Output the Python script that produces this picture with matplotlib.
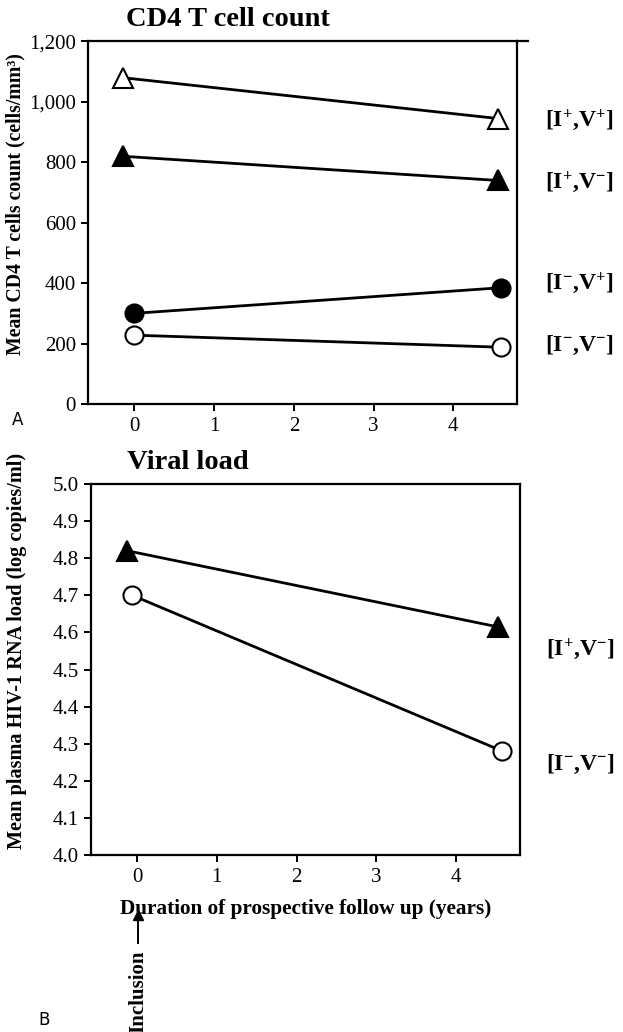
import matplotlib
matplotlib.use("Agg")
import matplotlib.pyplot as plt
from matplotlib.lines import Line2D

plt.rcParams['font.family'] = ['Liberation Serif', 'DejaVu Serif']
plt.rcParams['mathtext.fontset'] = 'custom'
plt.rcParams['mathtext.rm'] = 'Liberation Serif:weight=bold'
plt.rcParams['mathtext.bf'] = 'Liberation Serif:weight=bold'
plt.rcParams['mathtext.it'] = 'Liberation Serif:weight=bold'

# CD4 T cell count (panel A)
cd4_groups = [r"$\mathbf{[I^{+}{,}V^{+}]}$", r"$\mathbf{[I^{+}{,}V^{-}]}$",
              r"$\mathbf{[I^{-}{,}V^{+}]}$", r"$\mathbf{[I^{-}{,}V^{-}]}$"]
cd4_x = [[-0.14, 4.56], [-0.14, 4.56], [-0.01, 4.6], [-0.01, 4.6]]
cd4_y = [[1080, 945], [820, 740], [300, 385], [228, 188]]
cd4_marker = ['^', '^', 'o', 'o']
cd4_fill = ['white', 'black', 'black', 'white']
cd4_label_y = [940, 735, 400, 195]

# viral load (panel B)
vl_groups = [r"$\mathbf{[I^{+}{,}V^{-}]}$", r"$\mathbf{[I^{-}{,}V^{-}]}$"]
vl_x = [[-0.12, 4.52], [-0.06, 4.58]]
vl_y = [[4.82, 4.615], [4.70, 4.28]]
vl_marker = ['^', 'o']
vl_fill = ['black', 'white']
vl_label_y = [4.555, 4.245]

xticks = [0, 1, 2, 3, 4]

fig = plt.figure(figsize=(6.23, 10.32), dpi=100)
axA = fig.add_axes([0.142, 0.6085, 0.6878, 0.3513])
axB = fig.add_axes([0.146, 0.1715, 0.6886, 0.3595])


def style(ax):
    for s in ax.spines.values():
        s.set_linewidth(1.6)
    ax.tick_params(direction='out', length=5, width=1.4, labelsize=15, pad=4)
    ax.set_xticks(xticks)
    ax.set_xlim(-0.577, 4.8)


def series(ax, xs, ys, mk, fill):
    for x, y, m, f in zip(xs, ys, mk, fill):
        ms = 15 if m == '^' else 13
        ax.plot(x, y, color='black', lw=2, marker=m, ms=ms,
                markerfacecolor=f, markeredgecolor='black', markeredgewidth=1.5,
                clip_on=False)


style(axA)
series(axA, cd4_x, cd4_y, cd4_marker, cd4_fill)
axA.set_ylim(0, 1200)
axA.set_yticks(range(0, 1201, 200))
axA.set_yticklabels(['0', '200', '400', '600', '800', '1,000', '1,200'])
axA.set_ylabel('Mean CD4 T cells count (cells/mm³)', fontsize=14.3, fontweight='bold')
axA.yaxis.set_label_coords(-0.147, 0.552)
axA.text(0.088, 1.025, 'CD4 T cell count', transform=axA.transAxes,
         fontsize=20.5, fontweight='bold', va='bottom')
axA.add_line(Line2D([1.0, 1.026], [1.0, 1.0], transform=axA.transAxes,
                    color='black', lw=1.6, clip_on=False))
for g, ly in zip(cd4_groups, cd4_label_y):
    axA.text(1.065, ly, g, transform=axA.get_yaxis_transform(), fontsize=17, va='center')

style(axB)
series(axB, vl_x, vl_y, vl_marker, vl_fill)
axB.set_ylim(4.0, 5.0)
axB.set_yticks([4.0 + 0.1 * i for i in range(11)])
axB.set_yticklabels(['%.1f' % (4.0 + 0.1 * i) for i in range(11)])
axB.set_ylabel('Mean plasma HIV-1 RNA load (log copies/ml)', fontsize=14.6, fontweight='bold')
axB.yaxis.set_label_coords(-0.149, 0.55)
axB.set_xlabel('Duration of prospective follow up (years)', fontsize=15.3, fontweight='bold', labelpad=9)
axB.text(0.083, 1.025, 'Viral load', transform=axB.transAxes,
         fontsize=20.5, fontweight='bold', va='bottom')
for g, ly in zip(vl_groups, vl_label_y):
    axB.text(1.06, ly, g, transform=axB.get_yaxis_transform(), fontsize=17, va='center')

# inclusion arrow
fig.text(138 / 623, 1 - 992 / 1032, 'Inclusion', rotation=90, fontsize=15,
         fontweight='bold', ha='center', va='center')
fig.add_artist(Line2D([138 / 623, 138 / 623], [1 - 943 / 1032, 1 - 916 / 1032],
                      color='black', lw=1.4))
fig.add_artist(Line2D([138 / 623], [1 - 915 / 1032], marker='^', color='black', ms=7))

fig.text(12 / 623, 1 - 420 / 1032, 'A', family='DejaVu Sans', fontsize=12, va='center')
fig.text(38 / 623, 1 - 1020 / 1032, 'B', family='DejaVu Sans', fontsize=12, va='center')

fig.savefig('out.png', dpi=100, facecolor='white')
